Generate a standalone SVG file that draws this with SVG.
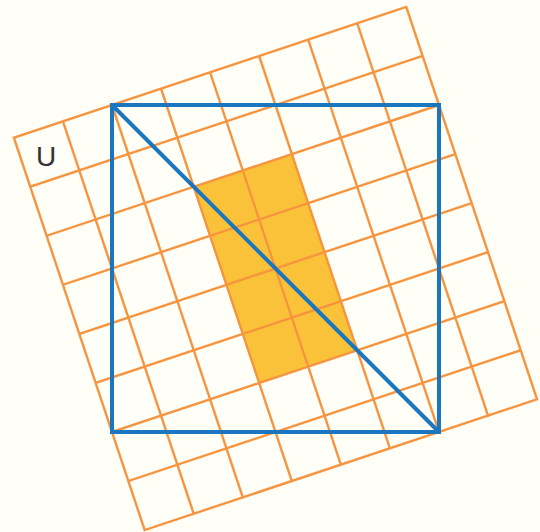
<svg xmlns="http://www.w3.org/2000/svg" width="540" height="532" viewBox="0 0 540 532">
<style>
.grid{fill:none;stroke:#F7943F;stroke-width:2.4;stroke-linecap:square}
.fillc{fill:#FAC238}
.blue{fill:none;stroke:#1A76BE;stroke-width:4;stroke-linejoin:miter}
.lbl{font-family:"Liberation Sans",Arial,sans-serif;font-size:28px;fill:#333333}
</style>
<rect width="540" height="532" fill="#FFFEF7"/>
<g id="grid" transform="translate(13.9 137.7) rotate(-18.4349)">
<rect id="shaded" class="fillc" x="155.1" y="103.4" width="103.4" height="206.8"/>
<path class="grid" d="M0 0V413.6M51.7 0V413.6M103.4 0V413.6M155.1 0V413.6M206.8 0V413.6M258.5 0V413.6M310.2 0V413.6M361.9 0V413.6M413.6 0V413.6M0 0H413.6M0 51.7H413.6M0 103.4H413.6M0 155.1H413.6M0 206.8H413.6M0 258.5H413.6M0 310.2H413.6M0 361.9H413.6M0 413.6H413.6"/>
</g>
<g id="square">
<rect class="blue" x="112" y="105" width="327" height="327"/>
<line class="blue" x1="112" y1="105" x2="439" y2="432"/>
</g>
<text class="lbl" x="36" y="166">U</text>
</svg>
